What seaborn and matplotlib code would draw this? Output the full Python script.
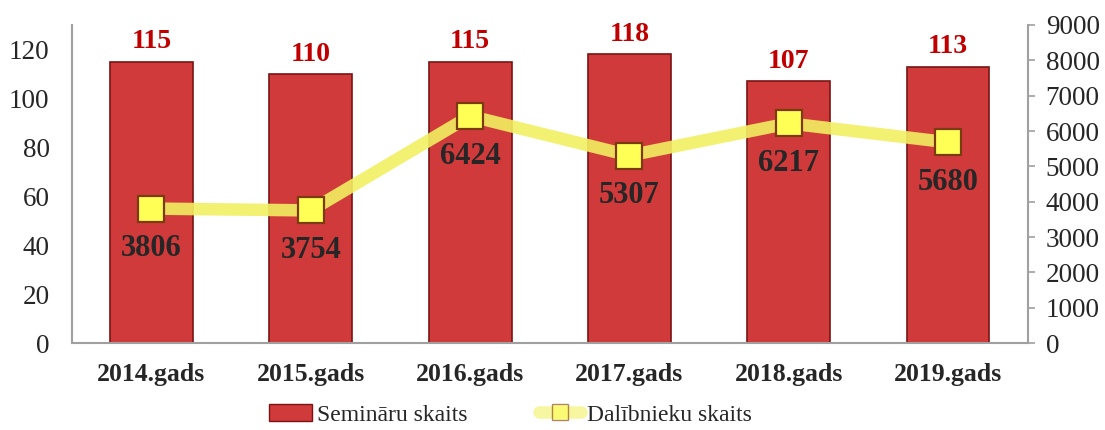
import matplotlib
matplotlib.use("Agg")
import matplotlib.pyplot as plt
import seaborn as sns
import numpy as np
from matplotlib.patches import Patch
from matplotlib.lines import Line2D

years = ["2014.gads", "2015.gads", "2016.gads", "2017.gads", "2018.gads", "2019.gads"]
seminars = [115, 110, 115, 118, 107, 113]
participants = [3806, 3754, 6424, 5307, 6217, 5680]

sns.set_theme(style="white")
plt.rcParams['font.family'] = ['Liberation Serif', 'DejaVu Serif']

fig = plt.figure(figsize=(11.05, 4.3), dpi=100)
ax = fig.add_axes([0.065, 0.202, 0.865, 0.740])

bar_color = "#D13A3A"
sns.barplot(x=years, y=seminars, ax=ax, color=bar_color, width=0.52,
            edgecolor="#7A1414", linewidth=1.2, saturation=1)
ax.set_ylim(0, 130)
ax.set_yticks(range(0, 121, 20))
ax.set_xlim(-0.5, 5.5)
ax.tick_params(axis='y', labelsize=19.5, length=0, pad=16)
ax.tick_params(axis='x', labelsize=18.5, length=0, pad=14)
for lbl in ax.get_xticklabels():
    lbl.set_fontweight('bold')
for s in ['top', 'right']:
    ax.spines[s].set_visible(False)
for s in ['left', 'bottom']:
    ax.spines[s].set_color('#A0A0A0')
    ax.spines[s].set_linewidth(1.5)

# bar value labels
for i, v in enumerate(seminars):
    ax.text(i, v + 3, str(v), ha='center', va='bottom', color='#C00000',
            fontsize=20, fontweight='bold')

ax2 = ax.twinx()
x = np.arange(len(years))
ax2.plot(x, participants, color='#F2F062', alpha=0.9, linewidth=9, zorder=2,
         solid_capstyle='round')
ax2.plot(x, participants, linestyle='none', marker='s', markersize=19,
         markerfacecolor='#FFFF55', markeredgecolor='#7B3A10', markeredgewidth=1.6,
         zorder=3)
ax2.set_yticks(range(0, 9001, 1000))
ax2.set_ylim(0, 9000)
ax2.tick_params(axis='y', labelsize=19.5, length=5, width=1.2, color='#A0A0A0', pad=8)
for s in ['top', 'left', 'bottom']:
    ax2.spines[s].set_visible(False)
ax2.spines['right'].set_color('#A0A0A0')
ax2.spines['right'].set_linewidth(1.5)
ax2.grid(False)
ax.grid(False)

# line value labels
for i, v in enumerate(participants):
    ax2.annotate(str(v), (i, v), xytext=(0, -29), textcoords='offset points',
                 ha='center', va='center', fontsize=22, fontweight='bold',
                 color='#262626', zorder=4)

handles = [
    Patch(facecolor=bar_color, edgecolor='#7A1414'),
    Line2D([0], [0], color='#F2F062', linewidth=9, alpha=0.6, marker='s',
           markersize=12, markerfacecolor='#FFFF55', markeredgecolor='#7B3A10'),
]
fig.legend(handles, ["Semināru skaits", "Dalībnieku skaits"], loc='center',
           bbox_to_anchor=(0.462, 0.035), ncol=2, frameon=False, fontsize=17,
           handlelength=1.8, handletextpad=0.25, columnspacing=3.0)

plt.savefig("out.png", dpi=100)
